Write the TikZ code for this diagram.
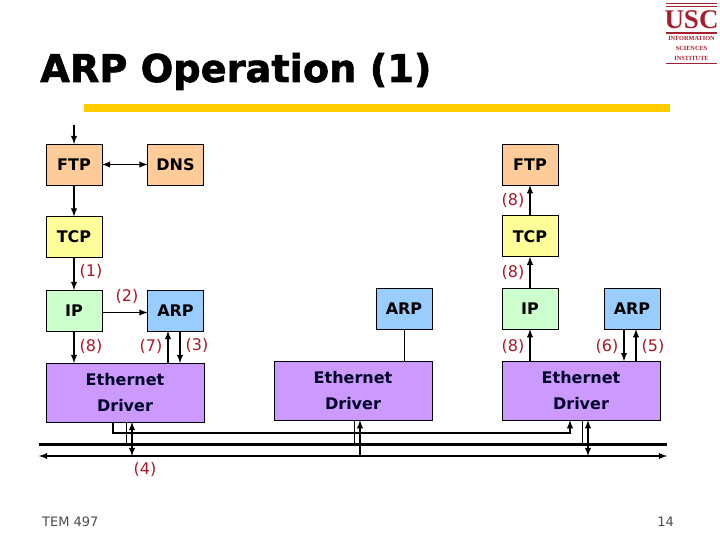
\documentclass[tikz,border=0pt]{standalone}
\usepackage{fontspec}
\setmainfont{DejaVu Sans}
\newfontfamily\logofont{Liberation Serif}
\newfontfamily\titlefont[FakeBold=1.6]{DejaVu Sans Bold}
\usetikzlibrary{positioning,arrows}
\def\dx{45.5pt}
\def\dy{32pt}
\definecolor{appColor}{HTML}{FFCC99}
\definecolor{tcpColor}{HTML}{FFFF99}
\definecolor{ipColor}{HTML}{CCFFCC}
\definecolor{arpColor}{HTML}{99CCFF}
\definecolor{ethColor}{HTML}{CC99FF}
\definecolor{stepColor}{HTML}{A81828}
\definecolor{logoColor}{HTML}{A5202F}
\definecolor{barColor}{HTML}{FFCC00}
\tikzstyle{block}=[draw,line width=0.9pt,inner sep=0pt,outer sep=0pt,minimum width=56pt,minimum height=41pt,
    font=\fontsize{16}{18}\selectfont\bfseries]
\tikzstyle{driver}=[block,fill=ethColor,minimum width=158pt,minimum height=59pt,align=center,
    text=black!85!blue,font=\fontsize{16}{26}\selectfont\bfseries]
\tikzstyle{stepLabel}=[text=stepColor,inner sep=0pt,font=\fontsize{16}{18}\selectfont]
\tikzstyle{conn}=[line width=1.8pt]
\tikzstyle{thinconn}=[line width=0.7pt]
\tikzstyle{logoline}=[logoColor,line width=1.2pt]
\tikzstyle{logotext}=[text=logoColor,inner sep=0pt,font=\logofont\bfseries\fontsize{6.3}{7}\selectfont]
\newcommand{\newBlock}[4]{\node[block,#3](#1)[#4]{#2};}
\newcommand{\newDriver}[3]{\node[driver](#1)[#3]{#2};}
\newcommand{\newStep}[3]{\node[stepLabel](#1) at (#3){#2};}
\newcommand{\newTransition}[3]{\draw[conn,#3] (#1) -- (#2);}

\begin{document}
\begin{tikzpicture}[x=1pt,y=-1pt,node distance=\dy and \dx,>=latex]
    \useasboundingbox (0,0) rectangle (720,540);
    % title
    \node[anchor=base west,inner sep=0pt,font=\titlefont\fontsize{38.3}{40}\selectfont] (title) at (40,82) {ARP Operation (1)};
    \fill[barColor] (84,104) rectangle (670,112);
    % logo
    \draw[logoline] (666,3.5) -- (717,3.5) (666,6.5) -- (717,6.5) (666,33) -- (717,33) (666,63.5) -- (717,63.5);
    \node[inner sep=0pt,text=logoColor,font=\logofont\bfseries\fontsize{27}{27}\selectfont] (usc) at (691.5,19.5) {USC};
    \node[logotext] (info) at (691.5,38) {INFORMATION};
    \node[logotext] (sci) at (691.5,48) {SCIENCES};
    \node[logotext] (inst) at (691.5,58) {INSTITUTE};
    % sender
    \newBlock{ftpA}{FTP}{fill=appColor}{at={(74,164.5)}}
    \newBlock{dnsA}{DNS}{fill=appColor}{right=\dx of ftpA}
    \newBlock{tcpA}{TCP}{fill=tcpColor}{below=31.5pt of ftpA}
    \newBlock{ipA}{IP}{fill=ipColor}{below=32.5pt of tcpA}
    \newBlock{arpA}{ARP}{fill=arpColor}{right=\dx of ipA}
    \newDriver{ethA}{Ethernet\\Driver}{below right=32pt and 0pt of ipA.south west,anchor=north west}
    % other host
    \newDriver{ethB}{Ethernet\\Driver}{at={(353,390.7)}}
    \newBlock{arpB}{ARP}{fill=arpColor}{above left=32pt and 0pt of ethB.north east,anchor=south east}
    % target
    \newDriver{ethC}{Ethernet\\Driver}{at={(581,390.7)}}
    \newBlock{ipC}{IP}{fill=ipColor}{above right=32pt and 0pt of ethC.north west,anchor=south west}
    \newBlock{arpC}{ARP}{fill=arpColor}{above left=32pt and 0pt of ethC.north east,anchor=south east}
    \newBlock{tcpC}{TCP}{fill=tcpColor}{above=31.5pt of ipC}
    \newBlock{ftpC}{FTP}{fill=appColor}{above=30.5pt of tcpC}
    % wires
    \coordinate (busL) at (39,444.3);
    \coordinate (busR) at (667,444.3);
    \coordinate (lanL) at (39,456);
    \coordinate (lanR) at (667,456);
    \coordinate (topIn) at (74,125);
    \draw[line width=2.4pt] (busL) -- (busR);
    \newTransition{lanL}{lanR}{<->}
    \newTransition{topIn}{topIn |- ftpA.north}{->}
    \newTransition{ftpA}{dnsA}{<->}
    \newTransition{ftpA}{tcpA}{->}
    \newTransition{tcpA}{ipA}{->}
    \newTransition{[yshift=-2pt]ipA.east}{[yshift=-2pt]arpA.west}{->}
    \newTransition{ipA}{ipA |- ethA.north}{->}
    \newTransition{[xshift=-7.5pt]arpA.south |- ethA.north}{[xshift=-7.5pt]arpA.south}{->}
    \newTransition{[xshift=4.5pt]arpA.south}{[xshift=4.5pt]arpA.south |- ethA.north}{->}
    \draw[thinconn] (arpB) -- (arpB |- ethB.north);
    \newTransition{ipC |- ethC.north}{ipC}{->}
    \newTransition{ipC}{tcpC}{->}
    \newTransition{tcpC}{ftpC}{->}
    \newTransition{[xshift=-8pt]arpC.south}{[xshift=-8pt]arpC.south |- ethC.north}{->}
    \newTransition{[xshift=4pt]arpC.south |- ethC.north}{[xshift=4pt]arpC.south}{->}
    % under the drivers
    \draw[conn,->] ([xshift=-12pt]ethA.south) -- ++(0,11) -| ([xshift=-11pt]ethC.south);
    \draw[thinconn] ([xshift=1pt]ethA.south) -- ([xshift=1pt]ethA.south |- busL);
    \draw[thinconn] ([xshift=1pt]ethB.south) -- ([xshift=1pt]ethB.south |- busL);
    \draw[thinconn] ([xshift=1pt]ethC.south) -- ([xshift=1pt]ethC.south |- busL);
    \newTransition{[xshift=7pt]ethA.south}{[xshift=7pt]ethA.south |- lanL}{<->}
    \newTransition{[xshift=7pt]ethB.south |- lanL}{[xshift=7pt]ethB.south}{->}
    \newTransition{[xshift=7pt]ethC.south}{[xshift=7pt]ethC.south |- lanL}{<->}
    % steps
    \newStep{s1}{(1)}{91,271}
    \newStep{s2}{(2)}{127,296}
    \newStep{s3}{(3)}{197,345.5}
    \newStep{s4}{(4)}{145,469}
    \newStep{s5}{(5)}{653,346}
    \newStep{s6}{(6)}{607,346}
    \newStep{s7}{(7)}{151,346}
    \newStep{s8a}{(8)}{91,346}
    \newStep{s8b}{(8)}{513,346}
    \newStep{s8c}{(8)}{513,272}
    \newStep{s8d}{(8)}{513,200}
    % footer
    \node[anchor=base west,inner sep=0pt,text=black!70,font=\fontsize{13}{15}\selectfont] (course) at (42,526) {TEM 497};
    \node[anchor=base east,inner sep=0pt,text=black!70,font=\fontsize{13}{15}\selectfont] (page) at (674,526) {14};
\end{tikzpicture}
\end{document}
